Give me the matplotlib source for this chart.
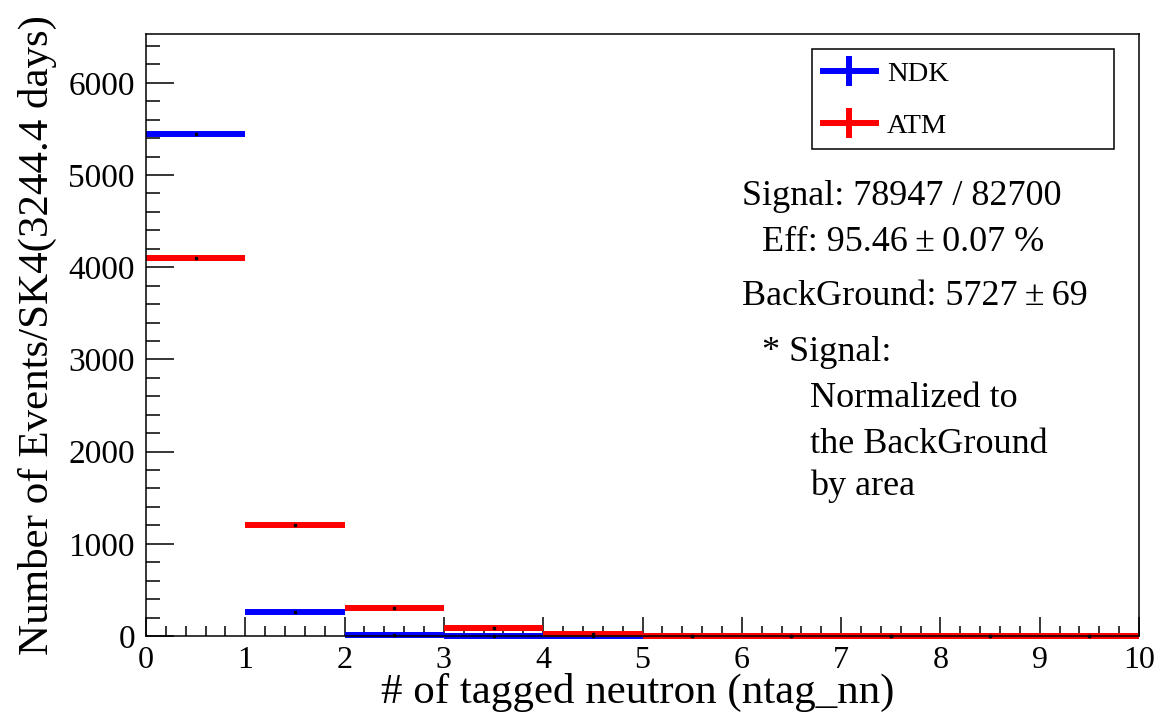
import matplotlib
matplotlib.use("Agg")
import matplotlib.pyplot as plt
from matplotlib.ticker import MultipleLocator
from matplotlib.lines import Line2D
from matplotlib.patches import Rectangle
import numpy as np


# ntag_nn bins (0..10, width 1)
bin_edges = np.arange(0, 11)
# signal (normalized to background area) and atmospheric background
ndk = [5446, 262, 14, 5, 0, 0, 0, 0, 0, 0]
atm = [4104, 1205, 302, 84, 24, 5, 2, 1, 0, 0]

summary = [
  ("Signal: 78947 / 82700", 742, 205),
  ("Eff: 95.46\u2009\u00b1\u20090.07 %", 762, 251),
  ("BackGround: 5727\u2009\u00b1\u200969", 742, 305),
  ("* Signal:", 762, 361),
  ("Normalized to", 810, 407),
  ("the BackGround", 810, 453),
  ("by area", 810, 495),
]

plt.rcParams['font.family'] = ['Liberation Serif', 'DejaVu Serif']

W, H = 1164, 715
fig = plt.figure(figsize=(W/100, H/100), dpi=100)
ax = fig.add_axes([146/W, 1 - 636/H, 993/W, 602/H])


def draw_hist(vals, color):
  lo = bin_edges[:-1]
  hi = bin_edges[1:]
  centers = 0.5*(lo + hi)
  ax.hlines(vals, lo, hi, colors=color, linewidth=4.3, clip_on=False, zorder=2)
  ax.plot(centers, vals, linestyle='none', marker='s', markersize=1.5,
          color='black', clip_on=False, zorder=2.1)


draw_hist(ndk, '#0000ff')
draw_hist(atm, '#ff0000')

ax.set_xlim(0, 10)
ax.set_ylim(0, 6530)

ax.xaxis.set_major_locator(MultipleLocator(1))
ax.xaxis.set_minor_locator(MultipleLocator(0.2))
ax.yaxis.set_major_locator(MultipleLocator(1000))
ax.yaxis.set_minor_locator(MultipleLocator(200))
ax.tick_params(which='both', direction='in', top=False, right=False, width=1.1)
ax.tick_params(axis='x', which='major', length=14, pad=7, labelsize=23)
ax.tick_params(axis='x', which='minor', length=7)
ax.tick_params(axis='y', which='major', length=20, pad=8, labelsize=24)
ax.tick_params(axis='y', which='minor', length=10)
for sp in ax.spines.values():
  sp.set_linewidth(1.1)

ax.set_xlabel('# of tagged neutron (ntag_nn)', fontsize=31)
ax.xaxis.set_label_coords(0.4955, -0.062)
ax.set_ylabel('Number of Events/SK4(3244.4 days)', fontsize=31)
ax.yaxis.set_label_coords(-0.09, 0.5)

# legend box and entries
fig.patches.append(Rectangle((812/W, 1 - 149/H), 302/W, 100/H, transform=fig.transFigure,
                             fill=False, edgecolor='black', linewidth=1.1))
handles = [
  Line2D([], [], color='#0000ff', lw=4.3, marker='|', markersize=22, markeredgewidth=4.3),
  Line2D([], [], color='#ff0000', lw=4.3, marker='|', markersize=22, markeredgewidth=4.3),
]
ax.legend(handles, ['NDK', 'ATM'], loc='upper left', bbox_to_anchor=(823/W, 1 - 61/H),
          bbox_transform=fig.transFigure, frameon=False, borderpad=0, borderaxespad=0,
          fontsize=20.5, handlelength=1.85, handletextpad=0.4, labelspacing=0.92)

for txt, x, y in summary:
  fig.text(x/W, 1 - y/H, txt, fontsize=26, ha='left', va='baseline')

fig.savefig('out.png', dpi=100)
